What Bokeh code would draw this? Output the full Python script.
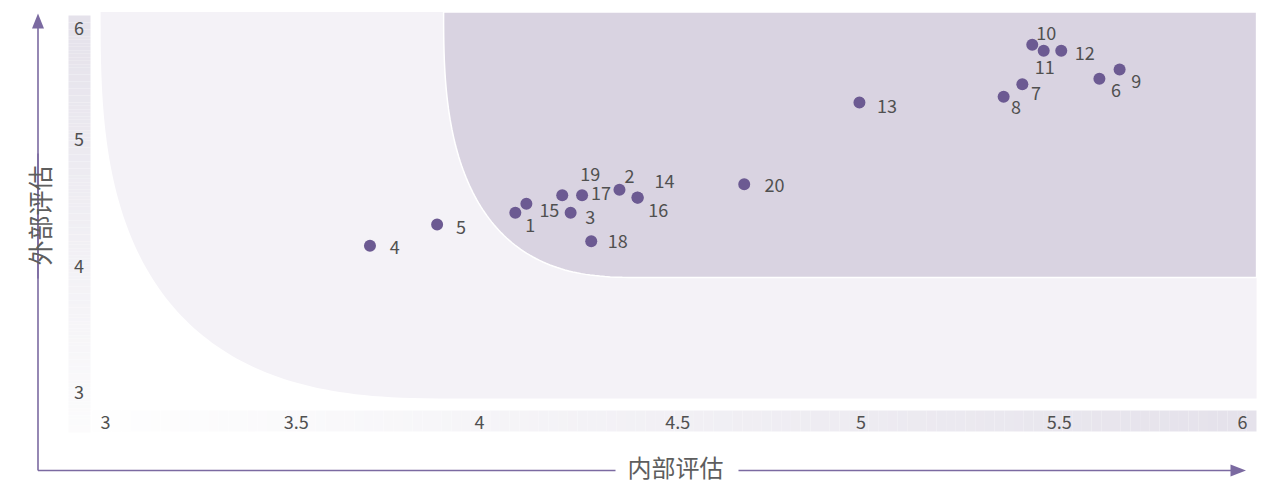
import numpy as np
from bokeh.plotting import figure
from bokeh.models import ColumnDataSource, Range1d
from bokeh.core.properties import value
from bokeh.embed import file_html
from bokeh.resources import INLINE

# ---------------- data ----------------
ids = [str(i) for i in range(1, 21)]
internal = [4.107, 4.380, 4.252, 3.726, 3.902, 5.638, 5.436, 5.387, 5.691, 5.462,
            5.492, 5.538, 5.009, 4.427, 4.136, 4.428, 4.282, 4.306, 4.230, 4.707]
external = [4.417, 4.598, 4.417, 4.156, 4.324, 5.476, 5.433, 5.334, 5.549, 5.745,
            5.697, 5.697, 5.289, 4.538, 4.488, 4.536, 4.556, 4.192, 4.556, 4.643]
x_ticks = [3, 3.5, 4, 4.5, 5, 5.5, 6]
y_ticks = [3, 4, 5, 6]
x_title = "内部评估"
y_title = "外部评估"

# label placement (screen px offsets from each point, collision-avoided layout)
label_dx = [10, 5, 14.7, 19.7, 19, 11.7, 8.7, 7.4, 11.7, 4,
            -9, 13.5, 17.5, 17, 13, 10.5, 9, 16.5, 18, 20.3]
label_dy = [12.7, -14.3, 4.4, 1.4, 2.7, 11.7, 9, 10.4, 11, -11.6,
            16.4, 2.4, 4, -16.3, 6.7, 12.3, -2, 0, -20.7, 1.3]

# ---------------- styles ----------------
FONT = "Noto Sans CJK SC"
TXT = "#505050"
PT = "#6c5a92"
ARROW = "#7b6aa1"
LIGHT = "#f4f2f7"
DARK = "#d9d3e1"

W, H = 1268, 484
OFF = 0
SX, X3 = 381.5, 92.5     # px per unit, page px of x=3
SY, Y4 = 126.5, 265.0    # px per unit, page px of y=4


def dx(px):
    return 3 + (px - X3) / SX


def dy(py):
    return 4 - (py - Y4) / SY


p = figure(width=W, height=H, x_range=Range1d(dx(OFF), dx(OFF + W)),
           y_range=Range1d(dy(OFF + H), dy(OFF)),
           output_backend="svg", toolbar_location=None,
           x_axis_type=None, y_axis_type=None,
           min_border=0, min_border_left=0, min_border_right=0,
           min_border_top=0, min_border_bottom=0)
p.grid.visible = False
p.outline_line_color = None
p.background_fill_color = "white"
p.border_fill_color = "white"


def zone(x0, x1, y0, y1, cx, n=2.8, m=80):
    t = np.linspace(0, np.pi / 2, m)
    a, b = cx - x0, y1 - y0
    xs = cx - a * np.cos(t) ** (2 / n)
    ys = y1 - b * np.sin(t) ** (2 / n)
    return list(xs) + [x1, x1], list(ys) + [y0, y1]


# zones
lx, ly = zone(3.02, 6.05, 2.948, 6.004, 3.963)
p.patch(lx, ly, fill_color=LIGHT, line_color=None)
dxs, dys = zone(3.919, 6.05, 3.905, 6.004, 4.435, n=2.7)
p.patch(dxs, dys, fill_color=DARK, line_color="white", line_width=1.5)

# gradient strips behind tick labels
N = 120


def mix(t):
    c0 = np.array([229, 226, 235])
    c1 = np.array([255, 255, 255])
    c = (c0 * (1 - t) + c1 * t).astype(int)
    return "#%02x%02x%02x" % tuple(c)


ys_edges = np.linspace(dy(15), dy(432), N + 1)
p.quad(left=dx(68), right=dx(90), top=ys_edges[:-1], bottom=ys_edges[1:],
       fill_color=[mix(0.9 * i / N) for i in range(N)], line_color=None)
xs_edges = np.linspace(dx(92), dx(1256), N + 1)
p.quad(left=xs_edges[:-1], right=xs_edges[1:], top=dy(410), bottom=dy(431),
       fill_color=[mix(1 - (i + 1) / N) for i in range(N)], line_color=None)

# tick labels
p.text(x=[max(v, dx(100)) for v in x_ticks], y=[dy(421.5)] * len(x_ticks),
       text=[("%g" % v) for v in x_ticks], text_font=value(FONT),
       text_font_size="18px", text_color=TXT, text_align="left",
       text_baseline="middle")
p.text(x=[dx(78.5)] * len(y_ticks), y=[min(v, dy(27)) for v in y_ticks],
       text=[("%g" % v) for v in y_ticks], text_font=value(FONT),
       text_font_size="18px", text_color=TXT, text_align="center",
       text_baseline="middle")

# axis arrows
ax_x, ax_y = dx(37.5), dy(470)
p.segment(x0=[ax_x, ax_x], y0=[ax_y, dy(278)], x1=[ax_x, ax_x], y1=[dy(153), dy(26)],
          line_color=ARROW, line_width=1.6)
p.segment(x0=[ax_x, dx(738)], y0=[ax_y, ax_y], x1=[dx(615), dx(1232)], y1=[ax_y, ax_y],
          line_color=ARROW, line_width=1.6)
p.patch([ax_x, dx(31.5), dx(43.5)], [dy(13), dy(28), dy(28)], fill_color=ARROW, line_color=None)
p.patch([dx(1245.5), dx(1230), dx(1230)], [ax_y, dy(464), dy(476)], fill_color=ARROW, line_color=None)

p.text(x=[dx(675)], y=[dy(466)], text=[x_title], text_font=value(FONT),
       text_font_size="24px", text_color="#5e5e5e", text_align="center",
       text_baseline="middle")
p.text(x=[dx(38)], y=[dy(215)], text=[y_title], text_font=value(FONT),
       text_font_size="25px", text_color="#5e5e5e", text_align="center",
       text_baseline="middle", angle=np.pi / 2)

# points and labels
src = ColumnDataSource(dict(x=internal, y=external, id=ids, ldx=label_dx, ldy=label_dy))
p.scatter(x="x", y="y", source=src, size=12, fill_color=PT, line_color=None)
p.text(x="x", y="y", text="id", x_offset="ldx", y_offset="ldy", source=src,
       text_font=value(FONT), text_font_size="18px", text_color=TXT,
       text_align="left", text_baseline="middle")

open("out.html", "w").write(file_html(p, INLINE))
